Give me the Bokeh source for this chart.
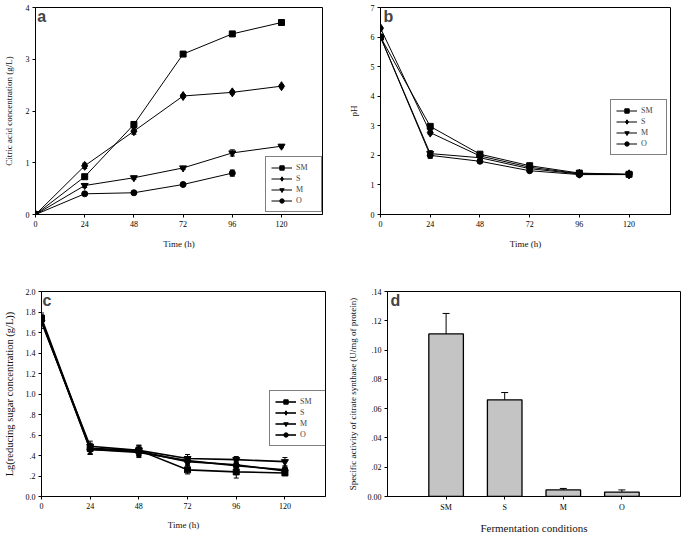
from bokeh.plotting import figure
from bokeh.models import (ColumnDataSource, Whisker, TeeHead, Legend, LegendItem,
                          Label, FixedTicker, Range1d)
from bokeh.layouts import row, column
from bokeh.embed import file_html
from bokeh.resources import INLINE

# ---------------- data ----------------
times = [0, 24, 48, 72, 96, 120]
series = ["SM", "S", "M", "O"]
markers = ["square", "diamond", "inverted_triangle", "circle"]

# (a) citric acid concentration (g/L)
a_SM = [0.0, 0.73, 1.74, 3.10, 3.49, 3.71]
a_S = [0.0, 0.94, 1.61, 2.29, 2.36, 2.48]
a_M = [0.0, 0.56, 0.71, 0.90, 1.19, 1.32]
a_O = [0.0, 0.40, 0.42, 0.58, 0.80]
a_SM_err = [0.0, 0.04, 0.05, 0.03, 0.04, 0.03]
a_S_err = [0.0, 0.05, 0.06, 0.03, 0.03, 0.03]
a_M_err = [0.0, 0.04, 0.03, 0.03, 0.06, 0.03]
a_O_err = [0.0, 0.02, 0.02, 0.02, 0.06]

# (b) pH
b_SM = [6.0, 2.98, 2.04, 1.65, 1.40, 1.36]
b_S = [6.3, 2.77, 1.98, 1.60, 1.38, 1.36]
b_M = [6.0, 2.06, 1.92, 1.55, 1.37, 1.35]
b_O = [6.0, 2.00, 1.80, 1.48, 1.35, 1.35]
b_SM_err = [0.05, 0.06, 0.05, 0.04, 0.04, 0.03]
b_S_err = [0.05, 0.06, 0.05, 0.04, 0.04, 0.03]
b_M_err = [0.05, 0.10, 0.05, 0.04, 0.04, 0.03]
b_O_err = [0.05, 0.10, 0.05, 0.04, 0.04, 0.03]

# (c) Lg(reducing sugar concentration)
c_SM = [1.74, 0.47, 0.45, 0.26, 0.24, 0.23]
c_S = [1.72, 0.46, 0.44, 0.34, 0.31, 0.25]
c_M = [1.70, 0.49, 0.45, 0.37, 0.36, 0.34]
c_O = [1.72, 0.46, 0.43, 0.35, 0.30, 0.26]
c_SM_err = [0.05, 0.05, 0.05, 0.04, 0.06, 0.02]
c_S_err = [0.05, 0.05, 0.05, 0.04, 0.04, 0.03]
c_M_err = [0.06, 0.05, 0.05, 0.04, 0.03, 0.04]
c_O_err = [0.05, 0.05, 0.05, 0.04, 0.04, 0.03]

# (d) specific activity of citrate synthase
d_cats = ["SM", "S", "M", "O"]
d_vals = [0.111, 0.066, 0.0045, 0.003]
d_errs = [0.014, 0.005, 0.001, 0.0015]

x_ticks = [0, 24, 48, 72, 96, 120]
a_yticks = [0, 1, 2, 3, 4]
b_yticks = [0, 1, 2, 3, 4, 5, 6, 7]
c_yticks = [0.0, 0.2, 0.4, 0.6, 0.8, 1.0, 1.2, 1.4, 1.6, 1.8, 2.0]
c_ylabels = ["0.0", ".2", ".4", ".6", ".8", "1.0", "1.2", "1.4", "1.6", "1.8", "2.0"]
d_yticks = [0.0, 0.02, 0.04, 0.06, 0.08, 0.10, 0.12, 0.14]
d_ylabels = ["0.00", ".02", ".04", ".06", ".08", ".10", ".12", ".14"]

SERIF = "Liberation Serif"
SANS = "Liberation Sans"


def style_axes(p, xs2, ys2, xfs="9px", yfs="9px"):
    for ax in (p.xaxis[0], p.yaxis[0]):
        ax.axis_line_color = "black"
        ax.axis_line_width = 1
        ax.major_tick_line_color = "black"
        ax.major_tick_in = 0
        ax.major_tick_out = 3
        ax.minor_tick_line_color = None
        ax.major_label_text_font = SERIF
        ax.major_label_text_font_size = "8px"
        ax.major_label_text_font_style = "normal"
        ax.major_label_text_color = "black"
        ax.axis_label_text_font = SERIF
        ax.axis_label_text_font_style = "normal"
        ax.axis_label_text_color = "#111111"
    p.xaxis[0].axis_label_text_font_size = xfs
    p.yaxis[0].axis_label_text_font_size = yfs
    p.xaxis[0].major_label_standoff = 3
    p.xaxis[0].axis_label_standoff = xs2
    p.yaxis[0].major_label_standoff = 3
    p.yaxis[0].axis_label_standoff = ys2
    p.grid.visible = False
    p.outline_line_color = "black"
    p.outline_line_width = 1
    p.background_fill_color = "white"


def line_panel(w, h, borders, yr, yticks, ylabels, xlabel, ylabel, data, errs,
               letter, letter_xy, legend_loc, lw, xs2, ys2, yfs):
    bl, br, bt, bb = borders
    p = figure(width=w, height=h, x_range=Range1d(0, 140), y_range=Range1d(*yr),
               output_backend="svg", toolbar_location=None,
               min_border_left=bl, min_border_right=br,
               min_border_top=bt, min_border_bottom=bb)
    p.xaxis.axis_label = xlabel
    p.yaxis.axis_label = ylabel
    p.xaxis.ticker = FixedTicker(ticks=x_ticks)
    p.yaxis.ticker = FixedTicker(ticks=yticks)
    if ylabels is not None:
        p.yaxis.major_label_overrides = {t: l for t, l in zip(yticks, ylabels)}
    style_axes(p, xs2, ys2, "9px", yfs)
    items = []
    for name, mk, ys, es in zip(series, markers, data, errs):
        xs = times[:len(ys)]
        src = ColumnDataSource(dict(x=xs, y=ys,
                                    up=[v + e for v, e in zip(ys, es)],
                                    lo=[v - e for v, e in zip(ys, es)]))
        lr = p.line("x", "y", source=src, line_color="black", line_width=lw)
        wk = Whisker(base="x", upper="up", lower="lo", source=src, dimension="height",
                     line_color="black", line_width=1,
                     upper_head=TeeHead(size=5, line_color="black", line_width=1),
                     lower_head=TeeHead(size=5, line_color="black", line_width=1))
        p.add_layout(wk)
        size = {"square": 6, "diamond": 9, "inverted_triangle": 7, "circle": 6}[mk]
        sr = p.scatter("x", "y", source=src, marker=mk, size=size,
                       fill_color="black", line_color="black")
        items.append(LegendItem(label=name, renderers=[lr, sr]))
    leg = Legend(items=items, location=legend_loc, padding=5, spacing=0,
                 label_height=11, glyph_height=11, glyph_width=21,
                 label_standoff=4, margin=0, border_line_color="black",
                 border_line_width=1, label_text_font=SERIF,
                 label_text_font_style="normal",
                 label_text_font_size="8px", background_fill_alpha=1)
    p.add_layout(leg)
    p.add_layout(Label(x=letter_xy[0], y=letter_xy[1], text=letter,
                       text_font=SANS, text_font_style="bold",
                       text_font_size="16px", text_baseline="top",
                       text_align="left"))
    return p


W1, W2 = 344, 340
H1, H2 = 270, 266

pa = line_panel(W1, H1, (32, 22, 7, 56), (0, 4), a_yticks, None,
                "Time (h)", "Citric acid concentration (g/L)",
                [a_SM, a_S, a_M, a_O], [a_SM_err, a_S_err, a_M_err, a_O_err],
                "a", (0.8, 4.0), (230, 2), 1, 9, 9, "9px")

pb = line_panel(W2, H1, (36, 14, 7, 56), (0, 7), b_yticks, None,
                "Time (h)", "pH",
                [b_SM, b_S, b_M, b_O], [b_SM_err, b_S_err, b_M_err, b_O_err],
                "b", (1.5, 7.0), (230, 59), 1, 9, 9, "9px")

pc = line_panel(W1, H2, (38, 19, 21, 37), (0, 2.0), c_yticks, c_ylabels,
                "Time (h)", "Lg(reducing sugar concentration (g/L))",
                [c_SM, c_S, c_M, c_O], [c_SM_err, c_S_err, c_M_err, c_O_err],
                "c", (0.5, 2.0), (228, 50), 1.6, 8, 8, "10.5px")

# (d) bar chart
pd_ = figure(width=W2, height=H2, x_range=Range1d(0, 5), y_range=Range1d(0, 0.14),
             output_backend="svg", toolbar_location=None,
             min_border_left=43, min_border_right=4, min_border_top=21,
             min_border_bottom=37)
d_pos = [i + 1 for i in range(len(d_cats))]
dsrc = ColumnDataSource(dict(x=d_pos, top=d_vals,
                             up=[v + e for v, e in zip(d_vals, d_errs)],
                             lo=d_vals))
pd_.add_layout(Whisker(base="x", upper="up", lower="lo", source=dsrc,
                       dimension="height", line_color="black", line_width=1,
                       upper_head=TeeHead(size=7, line_color="black", line_width=1),
                       lower_head=None))
pd_.vbar(x="x", top="top", width=0.59, source=dsrc, fill_color="#c4c4c4",
         line_color="black", line_width=1.3)
pd_.xaxis.ticker = FixedTicker(ticks=d_pos)
pd_.xaxis.major_label_overrides = {p_: c for p_, c in zip(d_pos, d_cats)}
pd_.yaxis.ticker = FixedTicker(ticks=d_yticks)
pd_.yaxis.major_label_overrides = {t: l for t, l in zip(d_yticks, d_ylabels)}
pd_.xaxis.axis_label = "Fermentation conditions"
pd_.yaxis.axis_label = "Specific activity of citrate synthase (U/mg of protein)"
style_axes(pd_, 7, 7, "11px", "9px")
pd_.add_layout(Label(x=0.05, y=0.14, text="d", text_font=SANS,
                     text_font_style="bold", text_font_size="16px",
                     text_baseline="top", text_align="left"))

layout = column(row(pa, pb), row(pc, pd_))
open("out.html", "w").write(file_html(layout, INLINE))
